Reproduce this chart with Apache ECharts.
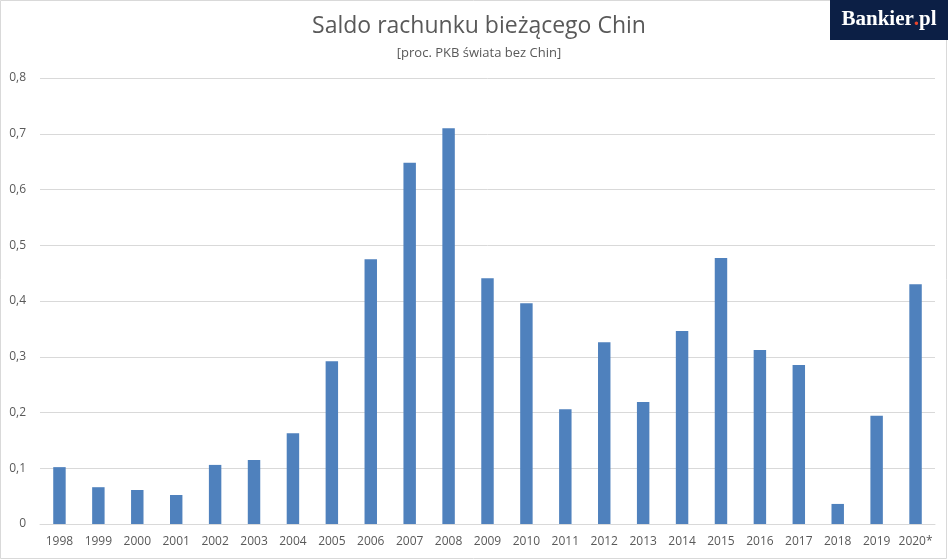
<!DOCTYPE html>
<html><head><meta charset="utf-8">
<script src="https://cdn.jsdelivr.net/npm/echarts@6/dist/echarts.min.js"></script>
<style>html,body{margin:0;padding:0;background:#fff}#c{width:948px;height:560px}</style>
</head><body><div id="c"></div>
<script>
const categories = ['1998','1999','2000','2001','2002','2003','2004','2005','2006','2007','2008','2009','2010','2011','2012','2013','2014','2015','2016','2017','2018','2019','2020*'];
const values = [0.102,0.066,0.061,0.052,0.106,0.115,0.163,0.292,0.475,0.648,0.710,0.441,0.396,0.206,0.326,0.219,0.346,0.477,0.312,0.285,0.036,0.194,0.430];
const yTicks = [0,0.1,0.2,0.3,0.4,0.5,0.6,0.7,0.8];
const chart = echarts.init(document.getElementById('c'), null, {renderer:'canvas'});
const font = '"Open Sans", "Liberation Sans", sans-serif';
chart.setOption({
  animation:false,
  backgroundColor:'#fff',
  title:{
    text:'Saldo rachunku bieżącego Chin',
    subtext:'[proc. PKB świata bez Chin]',
    left:474, top:10, textAlign:'center',
    textStyle:{fontFamily:font,fontSize:23,fontWeight:'normal',color:'#595959'},
    subtextStyle:{fontFamily:font,fontSize:13,color:'#595959'},
    itemGap:9
  },
  grid:{left:40,right:13,top:78,bottom:36,containLabel:false},
  xAxis:{
    type:'category',data:categories,
    axisLine:{lineStyle:{color:'#d9d9d9'}},
    axisTick:{show:false},
    axisLabel:{fontFamily:font,fontSize:12,color:'#595959',margin:12,interval:0}
  },
  yAxis:{
    type:'value',min:yTicks[0],max:yTicks[yTicks.length-1],interval:0.1,
    axisLine:{show:false},axisTick:{show:false},
    splitLine:{lineStyle:{color:'#d9d9d9'}},
    axisLabel:{fontFamily:font,fontSize:12,color:'#595959',margin:14,
      formatter:v=>String(Math.round(v*10)/10).replace('.',',')}
  },
  series:[{type:'bar',data:values,barWidth:'32%',itemStyle:{color:'#4f81bd'}}],
  graphic:[
    {type:'rect',shape:{x:0.5,y:0.5,width:946,height:558},style:{fill:null,stroke:'#d9d9d9',lineWidth:1},silent:true},
    {type:'rect',shape:{x:830,y:0,width:118,height:40},style:{fill:'#0c1f45'}},
    {type:'text',x:889,y:20,style:{
      text:'{w|Bankier}{r|.}{w|pl}',
      x:0,y:0,align:'center',verticalAlign:'middle',
      rich:{
        w:{fill:'#fff',fontFamily:'"Liberation Serif", serif',fontWeight:'bold',fontSize:21},
        r:{fill:'#e8452c',fontFamily:'"Liberation Serif", serif',fontWeight:'bold',fontSize:21}
      }
    }}
  ]
});
</script></body></html>
